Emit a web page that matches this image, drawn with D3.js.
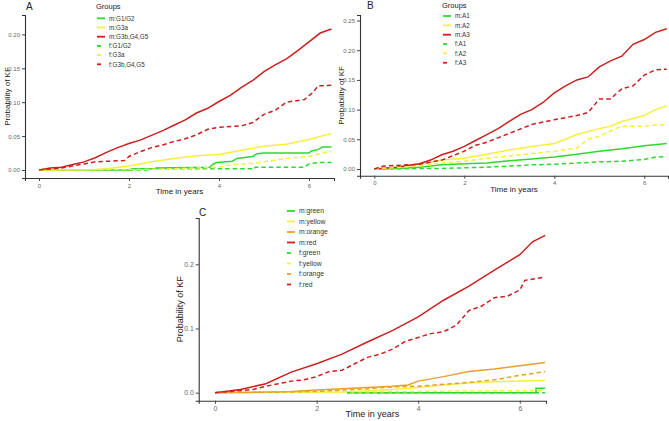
<!DOCTYPE html>
<html>
<head>
<meta charset="utf-8">
<script src="https://cdn.jsdelivr.net/npm/d3@7"></script>
<style>
  body { margin: 0; background: #fff; }
  svg { font-family: "Liberation Sans", Arial, sans-serif; }
</style>
</head>
<body>
<div id="chart"></div>
<script>
// ---- data ----
const xTicks = [0, 2, 4, 6];
const yTicksA = [0, 0.05, 0.10, 0.15, 0.20];
const yTicksB = [0, 0.05, 0.10, 0.15, 0.20, 0.25];
const yTicksC = [0, 0.1, 0.2];

const groupsA = ['m:G1/G2', 'm:G3a', 'm:G3b,G4,G5', 'f:G1/G2', 'f:G3a', 'f:G3b,G4,G5'];
const groupsB = ['m:A1', 'm:A2', 'm:A3', 'f:A1', 'f:A2', 'f:A3'];
const groupsC = ['m:green', 'm:yellow', 'm:orange', 'm:red', 'f:green', 'f:yellow', 'f:orange', 'f:red'];

// [time in years, probability]
const A_mG1G2 = [[0,0],[2.05,0],[2.05,0.002],[2.6,0.002],[2.6,0.003],[3.8,0.004],[3.85,0.008],[3.95,0.011],[4.3,0.013],[4.4,0.017],[4.75,0.02],[4.85,0.024],[5.0,0.025],[6.0,0.025],[6.05,0.028],[6.2,0.03],[6.3,0.034],[6.5,0.034]];
const A_mG3a = [[0,0],[1.0,0],[1.5,0.002],[2.0,0.006],[2.5,0.012],[3.0,0.017],[3.5,0.021],[4.0,0.023],[4.5,0.029],[5.0,0.035],[5.5,0.038],[6.0,0.045],[6.5,0.054]];
const A_mG3b = [[0,0],[0.25,0.003],[0.5,0.004],[0.75,0.008],[1.0,0.012],[1.25,0.018],[1.5,0.026],[1.75,0.033],[2.0,0.039],[2.25,0.044],[2.5,0.051],[2.75,0.058],[3.0,0.066],[3.25,0.074],[3.5,0.084],[3.75,0.091],[4.0,0.101],[4.25,0.110],[4.5,0.122],[4.75,0.132],[5.0,0.145],[5.25,0.155],[5.5,0.164],[5.75,0.176],[6.0,0.189],[6.25,0.202],[6.5,0.208]];
const A_fG1G2 = [[0,0],[2.5,0],[2.5,0.002],[4.8,0.002],[4.8,0.004],[5.9,0.004],[6.0,0.009],[6.2,0.011],[6.5,0.011]];
const A_fG3a = [[0,0],[2.6,0.001],[3.5,0.003],[4.0,0.004],[4.3,0.008],[4.8,0.01],[5.0,0.012],[5.5,0.017],[6.0,0.02],[6.3,0.025],[6.5,0.027]];
const A_fG3b = [[0,0],[0.5,0.003],[1.0,0.009],[1.25,0.012],[1.9,0.014],[2.0,0.02],[2.25,0.027],[2.5,0.033],[2.75,0.037],[3.0,0.042],[3.25,0.046],[3.5,0.052],[3.75,0.06],[4.0,0.063],[4.5,0.065],[4.75,0.07],[5.0,0.082],[5.25,0.088],[5.5,0.1],[5.9,0.104],[6.1,0.115],[6.2,0.124],[6.5,0.125]];

const B_mA1 = [[0,0],[0.5,0.001],[1.0,0.003],[1.5,0.007],[2.0,0.009],[2.5,0.01],[3.0,0.014],[3.5,0.017],[4.0,0.02],[4.5,0.025],[5.0,0.03],[5.5,0.034],[6.0,0.039],[6.5,0.043]];
const B_mA2 = [[0,0],[0.5,0.003],[1.0,0.008],[1.5,0.015],[2.0,0.018],[2.5,0.025],[3.0,0.032],[3.5,0.038],[4.0,0.043],[4.25,0.05],[4.5,0.058],[5.0,0.068],[5.25,0.072],[5.5,0.08],[6.0,0.09],[6.25,0.1],[6.5,0.106]];
const B_mA3 = [[0,0],[0.5,0.003],[1.0,0.009],[1.25,0.015],[1.5,0.024],[1.75,0.03],[2.0,0.038],[2.25,0.048],[2.5,0.058],[2.75,0.068],[3.0,0.08],[3.25,0.092],[3.5,0.1],[3.75,0.112],[4.0,0.128],[4.25,0.14],[4.5,0.15],[4.75,0.155],[5.0,0.172],[5.25,0.182],[5.5,0.19],[5.75,0.21],[6.0,0.218],[6.25,0.23],[6.5,0.236]];
const B_fA1 = [[0,0],[1.5,0.001],[2.0,0.002],[2.5,0.003],[3.0,0.005],[3.5,0.007],[4.0,0.008],[4.5,0.01],[5.0,0.012],[5.5,0.013],[6.0,0.016],[6.25,0.02],[6.5,0.021]];
const B_fA2 = [[0,0],[1.0,0.005],[1.5,0.01],[2.0,0.013],[2.5,0.018],[3.0,0.022],[3.5,0.026],[4.0,0.03],[4.5,0.035],[4.75,0.05],[5.0,0.055],[5.25,0.064],[5.5,0.072],[6.0,0.072],[6.25,0.074],[6.5,0.074]];
const B_fA3 = [[0,0],[0.2,0.005],[0.5,0.006],[1.0,0.008],[1.5,0.015],[2.0,0.03],[2.25,0.04],[2.5,0.045],[3.0,0.06],[3.5,0.075],[4.0,0.083],[4.5,0.09],[4.75,0.095],[5.0,0.118],[5.25,0.118],[5.5,0.135],[5.75,0.14],[6.0,0.158],[6.25,0.167],[6.5,0.168]];

const C_mGreen = [[2.6,0],[6.32,0],[6.32,0.007],[6.5,0.007]];
const C_mYellow = [[0,0],[2.5,0.001],[3.0,0.003],[3.5,0.005],[4.0,0.008],[4.5,0.012],[5.0,0.015],[5.5,0.017],[6.0,0.018],[6.5,0.019]];
const C_mOrange = [[0,0],[1.0,0.001],[1.5,0.002],[2.0,0.004],[2.5,0.006],[3.0,0.008],[3.5,0.01],[3.8,0.012],[4.0,0.018],[4.5,0.025],[5.0,0.033],[5.5,0.037],[6.0,0.042],[6.5,0.047]];
const C_mRed = [[0,0],[0.5,0.005],[1.0,0.014],[1.5,0.032],[2.0,0.045],[2.5,0.06],[3.0,0.079],[3.5,0.097],[4.0,0.118],[4.5,0.144],[5.0,0.166],[5.5,0.191],[6.0,0.215],[6.25,0.235],[6.5,0.245]];
const C_fGreen = [[2.6,0],[6.5,0]];
const C_fYellow = [[0,0],[2.0,0.001],[4.0,0.002],[5.5,0.003],[6.5,0.003]];
const C_fOrange = [[0,0],[1.5,0.001],[2.0,0.002],[2.5,0.004],[3.0,0.006],[3.5,0.009],[4.0,0.01],[4.5,0.013],[5.0,0.016],[5.5,0.02],[6.0,0.027],[6.25,0.03],[6.5,0.033]];
const C_fRed = [[0,0],[0.75,0.005],[1.0,0.01],[1.5,0.018],[1.75,0.02],[2.0,0.025],[2.25,0.033],[2.5,0.035],[2.75,0.045],[3.0,0.055],[3.25,0.06],[3.5,0.068],[3.75,0.08],[4.0,0.086],[4.25,0.092],[4.5,0.095],[4.75,0.105],[5.0,0.128],[5.25,0.135],[5.5,0.148],[5.75,0.15],[6.0,0.16],[6.1,0.175],[6.5,0.18]];

// ---- styles ----
const colors = { green: '#2fd82f', yellow: '#f7ef3c', orange: '#e8a02c', red: '#cc1f1f' };
const dash = '4.5,3';

const svg = d3.select('#chart').append('svg')
  .attr('width', 669)
  .attr('height', 421);

function plot(p) {
  const g = svg.append('g');
  const x = d3.scaleLinear().domain(p.xDomain).range([p.left, p.right]);
  const y = d3.scaleLinear().domain(p.yDomain).range([p.bottom, p.top]);

  // axes
  const xAxis = g.append('g')
    .attr('transform', 'translate(0,' + p.bottom + ')')
    .call(d3.axisBottom(x).tickValues(xTicks).tickSizeOuter(0).tickSize(3).tickPadding(2.5).tickFormat(d3.format('d')));
  const yAxis = g.append('g')
    .attr('transform', 'translate(' + p.left + ',0)')
    .call(d3.axisLeft(y).tickValues(p.yTicks).tickSizeOuter(0).tickSize(3).tickPadding(2).tickFormat(d3.format(p.yFmt)));
  [xAxis, yAxis].forEach(a => {
    a.select('.domain').attr('stroke', '#333').attr('stroke-width', 1.1);
    a.selectAll('.tick line').attr('stroke', '#444');
    a.selectAll('.tick text').attr('fill', '#666').style('font-size', p.tickSize + 'px');
  });

  g.append('text')
    .attr('x', (p.left + p.right) / 2)
    .attr('y', p.xTitleY)
    .attr('text-anchor', 'middle')
    .style('font-size', p.titleSize + 'px')
    .attr('fill', '#222')
    .text('Time in years');
  g.append('text')
    .attr('transform', 'translate(' + p.yTitleX + ',' + (p.top + p.bottom) / 2 + ') rotate(-90)')
    .attr('text-anchor', 'middle')
    .attr('dy', '0.35em')
    .style('font-size', p.titleSize + 'px')
    .attr('fill', '#222')
    .text('Probability of KF');

  // panel letter
  g.append('text')
    .attr('x', p.letterX)
    .attr('y', p.letterY)
    .style('font-size', '10px')
    .attr('fill', '#222')
    .text(p.letter);

  // curves
  const line = d3.line().x(d => x(d[0])).y(d => y(d[1]));
  g.selectAll('.curve')
    .data(p.series)
    .enter()
    .append('path')
    .attr('fill', 'none')
    .attr('stroke', d => colors[d.color])
    .attr('stroke-width', 1.5)
    .attr('stroke-dasharray', d => d.dashed ? dash : null)
    .attr('d', d => line(d.values));

  // legend
  if (p.legendTitle) {
    g.append('text')
      .attr('x', p.legendX - 1)
      .attr('y', p.legendTitleY)
      .style('font-size', '7.5px')
      .attr('fill', '#222')
      .text(p.legendTitle);
  }
  const legend = g.selectAll('.legend')
    .data(p.series)
    .enter()
    .append('g')
    .attr('transform', (d, i) => 'translate(' + p.legendX + ',' + (p.legendY + i * p.legendStep) + ')');
  legend.append('line')
    .attr('x1', 0).attr('x2', 8)
    .attr('stroke', d => colors[d.color])
    .attr('stroke-width', 1.8)
    .attr('stroke-dasharray', d => d.dashed ? '4,4' : null);
  legend.append('text')
    .attr('x', 12)
    .attr('dy', '0.35em')
    .style('font-size', p.legendSize + 'px')
    .attr('fill', '#333')
    .text(d => d.name);
}

plot({
  letter: 'A', letterX: 26, letterY: 10,
  left: 25, right: 334, top: 15, bottom: 178,
  xDomain: [-0.311, 6.556], yDomain: [-0.0118, 0.2286],
  yTicks: yTicksA, yFmt: '.2f', tickSize: 6, titleSize: 8,
  xTitleY: 194, yTitleX: 7,
  legendTitle: 'Groups', legendTitleY: 9,
  legendX: 97, legendY: 18.3, legendStep: 9.2, legendSize: 6.3,
  series: [
    { name: groupsA[0], color: 'green', dashed: false, values: A_mG1G2 },
    { name: groupsA[1], color: 'yellow', dashed: false, values: A_mG3a },
    { name: groupsA[2], color: 'red', dashed: false, values: A_mG3b },
    { name: groupsA[3], color: 'green', dashed: true, values: A_fG1G2 },
    { name: groupsA[4], color: 'yellow', dashed: true, values: A_fG3a },
    { name: groupsA[5], color: 'red', dashed: true, values: A_fG3b },
  ],
});

plot({
  letter: 'B', letterX: 367, letterY: 9,
  left: 360, right: 668, top: 15, bottom: 175.7,
  xDomain: [-0.318, 6.527], yDomain: [-0.0113, 0.2593],
  yTicks: yTicksB, yFmt: '.2f', tickSize: 6, titleSize: 8,
  xTitleY: 192, yTitleX: 341,
  legendTitle: 'Groups', legendTitleY: 8,
  legendX: 443, legendY: 16, legendStep: 9.35, legendSize: 6.3,
  series: [
    { name: groupsB[0], color: 'green', dashed: false, values: B_mA1 },
    { name: groupsB[1], color: 'yellow', dashed: false, values: B_mA2 },
    { name: groupsB[2], color: 'red', dashed: false, values: B_mA3 },
    { name: groupsB[3], color: 'green', dashed: true, values: B_fA1 },
    { name: groupsB[4], color: 'yellow', dashed: true, values: B_fA2 },
    { name: groupsB[5], color: 'red', dashed: true, values: B_fA3 },
  ],
});

plot({
  letter: 'C', letterX: 199, letterY: 216,
  left: 198.7, right: 546, top: 218, bottom: 400.7,
  xDomain: [-0.321, 6.516], yDomain: [-0.0125, 0.2721],
  yTicks: yTicksC, yFmt: '.1f', tickSize: 6.8, titleSize: 9,
  xTitleY: 417, yTitleX: 180,
  legendTitle: null,
  legendX: 287, legendY: 211, legendStep: 10.5, legendSize: 6.8,
  series: [
    { name: groupsC[0], color: 'green', dashed: false, values: C_mGreen },
    { name: groupsC[1], color: 'yellow', dashed: false, values: C_mYellow },
    { name: groupsC[2], color: 'orange', dashed: false, values: C_mOrange },
    { name: groupsC[3], color: 'red', dashed: false, values: C_mRed },
    { name: groupsC[4], color: 'green', dashed: true, values: C_fGreen },
    { name: groupsC[5], color: 'yellow', dashed: true, values: C_fYellow },
    { name: groupsC[6], color: 'orange', dashed: true, values: C_fOrange },
    { name: groupsC[7], color: 'red', dashed: true, values: C_fRed },
  ],
});
</script>
</body>
</html>
